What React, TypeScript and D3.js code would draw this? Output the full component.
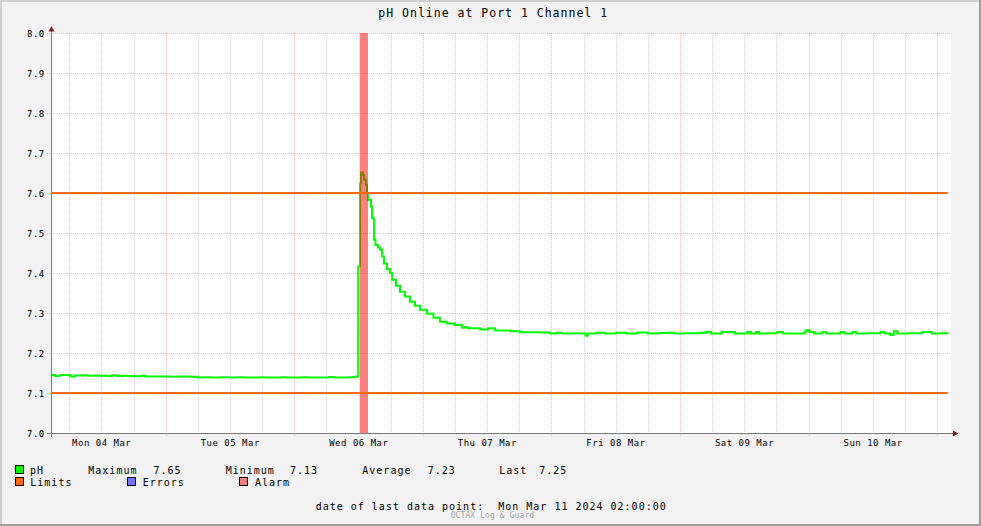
import React from 'react';
import * as d3 from 'd3';

const TITLE = 'pH Online at Port 1 Channel 1';
const yTickValues = [7.0, 7.1, 7.2, 7.3, 7.4, 7.5, 7.6, 7.7, 7.8, 7.9, 8.0];
const dayLabels = ['Mon 04 Mar', 'Tue 05 Mar', 'Wed 06 Mar', 'Thu 07 Mar', 'Fri 08 Mar', 'Sat 09 Mar', 'Sun 10 Mar'];
// hours since Mon 04 Mar 2024 00:00
const domainHours = [2.6, 170.6];
const phHours = [
  2.6, 3.4, 4.3, 6.2, 7.1, 8.6, 9.5, 11, 12, 13, 14, 15, 16, 17, 18, 19.6, 20.2, 22, 23, 24, 25, 26.5, 27.5, 28.5,
  30, 31, 32.5, 33.5, 34.5, 36, 37.5, 38.5, 40, 41.5, 42.5, 44, 45.5, 46.5, 48, 49.5, 50.5, 52, 53, 54.5, 55.5, 57,
  58.2, 59.3, 59.6, 59.95,
  60.28, 60.47, 60.84, 61.03, 61.4, 61.59, 61.78, 62.33, 62.52, 62.9, 63.17, 63.64, 64.01, 64.39, 64.76, 65.32,
  65.88, 66.26, 67.0, 67.75, 68.68, 69.62, 70.55, 71.48, 72.79, 74.0, 75.2, 76.5, 78.0, 79.3, 79.9, 80.4, 82.7,
  84.2, 85.5, 88.3, 90.15, 93.9, 95.75, 97.0, 98.0, 100.5, 101.5, 102.4, 102.8, 104.4, 106, 108, 110, 112, 114,
  116, 117.5, 119, 121, 123.8, 125, 125.8, 127.8, 130.3, 132.6, 133.2, 134.2, 134.8, 136.5, 138.2, 139.2, 141,
  143.3, 143.7, 144.2, 145, 146.6, 147.3, 150, 150.7, 152.2, 152.9, 155, 157.5, 158.2, 159.3, 159.9, 160.6, 162.5,
  165.3, 167, 168.5, 170,
];
const phValues = [
  7.145, 7.1425, 7.145, 7.141, 7.1435, 7.1445, 7.143, 7.1435, 7.143, 7.1425, 7.1445, 7.1425, 7.143, 7.1425, 7.142,
  7.144, 7.1415, 7.141, 7.1415, 7.141, 7.1405, 7.1415, 7.141, 7.1405,
  7.139, 7.1395, 7.139, 7.1385, 7.1395, 7.139, 7.1395, 7.1385, 7.139, 7.1395, 7.1385, 7.139, 7.1395, 7.1385, 7.139,
  7.1395, 7.139, 7.1385, 7.139, 7.1398, 7.139, 7.1385,
  7.1395, 7.1405, 7.1415, 7.417,
  7.624, 7.651, 7.645, 7.633, 7.62, 7.599, 7.583, 7.566, 7.537, 7.483, 7.47, 7.464, 7.458, 7.441, 7.424, 7.41,
  7.4, 7.383, 7.368, 7.353, 7.341, 7.328, 7.318, 7.308, 7.298, 7.288, 7.278, 7.274, 7.27, 7.263, 7.265, 7.262, 7.259,
  7.262, 7.256, 7.2545, 7.252, 7.251, 7.249, 7.2505, 7.249, 7.2495, 7.2485, 7.243, 7.249, 7.2505, 7.249, 7.2505,
  7.249, 7.2515, 7.249,
  7.25, 7.2505, 7.249, 7.2495, 7.2505, 7.253, 7.249, 7.2525, 7.249, 7.2525, 7.249, 7.2525, 7.249, 7.2495, 7.2525,
  7.249, 7.2485,
  7.2535, 7.2575, 7.2525, 7.249, 7.2525, 7.249, 7.2525, 7.249, 7.2525, 7.249, 7.2495, 7.2525, 7.249, 7.245, 7.2545,
  7.249, 7.2495,
  7.2525, 7.249, 7.2495, 7.249,
];
const limitValues = [7.1, 7.6];
const limitRange = [2.6, 170];
const alarmHours = [60.28, 61.78];
const statLabels = ['Maximum', 'Minimum', 'Average', 'Last'];
const statValues = ['7.65', '7.13', '7.23', '7.25'];
const statLabelX = [88.3, 225.7, 362.3, 499.3];
const statValueX = [153.5, 290, 427.7, 539.3];
const FOOTER = 'date of last data point:  Mon Mar 11 2024 02:00:00';
const BRAND = 'OCTAX Log & Guard';

const W = 981;
const H = 526;
const FONT = '"DejaVu Sans Mono", monospace';

export default function App() {
  const x = d3.scaleLinear().domain(domainHours).range([51, 951]);
  const y = d3.scaleLinear().domain([7.0, 8.0]).range([433, 33]);

  const pts: [number, number][] = phHours.map((h, i) => [h, phValues[i]]);
  const line = d3
    .line<[number, number]>()
    .x((d) => x(d[0]))
    .y((d) => y(d[1]))
    .curve(d3.curveStepAfter);

  const gridHours = d3.range(6, 170.6, 6);
  const labelHours = dayLabels.map((_, i) => 12 + 24 * i);

  const minorColor = 'rgba(143,143,143,0.38)';
  const majorColor = 'rgba(222,79,79,0.38)';

  return (
    <svg
      width={W}
      height={H}
      style={{ position: 'absolute', left: 0, top: 0, display: 'block' }}
      fontFamily={FONT}
    >
      <rect x={0} y={0} width={W} height={H} fill="#f2f2f2" />
      {/* border */}
      <rect x={0} y={0} width={W} height={2} fill="#cfcfcf" />
      <rect x={0} y={0} width={2} height={H} fill="#cfcfcf" />
      <rect x={0} y={H - 2} width={W} height={2} fill="#9e9e9e" />
      <rect x={W - 2} y={0} width={2} height={H} fill="#9e9e9e" />

      <text x={378.3} y={17.3} fontSize={11.5} letterSpacing={1} fill="#000">
        {TITLE}
      </text>

      {/* canvas */}
      <rect x={51} y={33} width={900} height={400} fill="#fff" />

      {/* vertical grid */}
      {gridHours.map((h) => {
        const major = h % 24 === 0;
        const xx = Math.round(x(h)) + 0.5;
        return (
          <line
            key={'v' + h}
            x1={xx}
            x2={xx}
            y1={33}
            y2={major ? 436 : 435}
            stroke={major ? majorColor : minorColor}
            strokeWidth={1}
            strokeDasharray="1,1"
          />
        );
      })}
      {/* horizontal grid */}
      {yTickValues.map((v) => {
        const yy = Math.round(y(v)) + 0.5;
        return (
          <line
            key={'h' + v}
            x1={47}
            x2={951}
            y1={yy}
            y2={yy}
            stroke={majorColor}
            strokeWidth={1}
            strokeDasharray="1,1"
          />
        );
      })}

      {/* pH line */}
      <path d={line(pts) || ''} fill="none" stroke="#00ff00" strokeWidth={2} />

      {/* alarm */}
      <rect
        x={x(alarmHours[0])}
        y={33}
        width={x(alarmHours[1]) - x(alarmHours[0])}
        height={400}
        fill="#ff0000"
        fillOpacity={0.5}
      />

      {/* limits */}
      {limitValues.map((v) => (
        <line
          key={'l' + v}
          x1={x(limitRange[0])}
          x2={x(limitRange[1])}
          y1={y(v)}
          y2={y(v)}
          stroke="#ff6a00"
          strokeWidth={2}
        />
      ))}

      {/* axes */}
      <line x1={51.5} x2={51.5} y1={437} y2={31} stroke="#777" strokeWidth={1} />
      <line x1={47} x2={954} y1={433.5} y2={433.5} stroke="#777" strokeWidth={1} />
      <path d="M48.5,31.5 L51.5,26 L54.5,31.5 Z" fill="#801f1f" />
      <path d="M953,430.5 L958.5,433.5 L953,436.5 Z" fill="#801f1f" />

      {/* y tick labels */}
      {yTickValues.map((v) => (
        <text
          key={'yt' + v}
          x={44.8}
          y={y(v) + 3.7}
          fontSize={9}
          letterSpacing={0.5}
          textAnchor="end"
          fill="#000"
        >
          {v.toFixed(1)}
        </text>
      ))}
      {/* x labels */}
      {dayLabels.map((lab, i) => (
        <text
          key={lab}
          x={x(labelHours[i]) + 0.3}
          y={446}
          fontSize={9}
          letterSpacing={0.5}
          textAnchor="middle"
          fill="#000"
        >
          {lab}
        </text>
      ))}

      {/* legend */}
      <g fontSize={10} letterSpacing={1} fill="#000">
        <rect x={15.5} y={465.5} width={8} height={8} fill="#00ff00" stroke="#000" />
        <text x={30} y={474}>pH</text>
        {statLabels.map((s, i) => (
          <React.Fragment key={s}>
            <text x={statLabelX[i]} y={474}>{s}</text>
            <text x={statValueX[i]} y={474}>{statValues[i]}</text>
          </React.Fragment>
        ))}
        <rect x={15.5} y={477.5} width={8} height={8} fill="#ff6a00" stroke="#000" />
        <text x={30.3} y={486}>Limits</text>
        <rect x={127.5} y={477.5} width={8} height={8} fill="#7373ff" stroke="#000" />
        <text x={142.7} y={486}>Errors</text>
        <rect x={239.5} y={477.5} width={8} height={8} fill="#f87a7a" stroke="#000" />
        <text x={255} y={486}>Alarm</text>
        <text x={315.7} y={510} style={{ whiteSpace: 'pre' }}>{FOOTER}</text>
      </g>
      <text x={450.7} y={518} fontSize={8} letterSpacing={0.1} fill="#a8a8a8">
        {BRAND}
      </text>
    </svg>
  );
}
